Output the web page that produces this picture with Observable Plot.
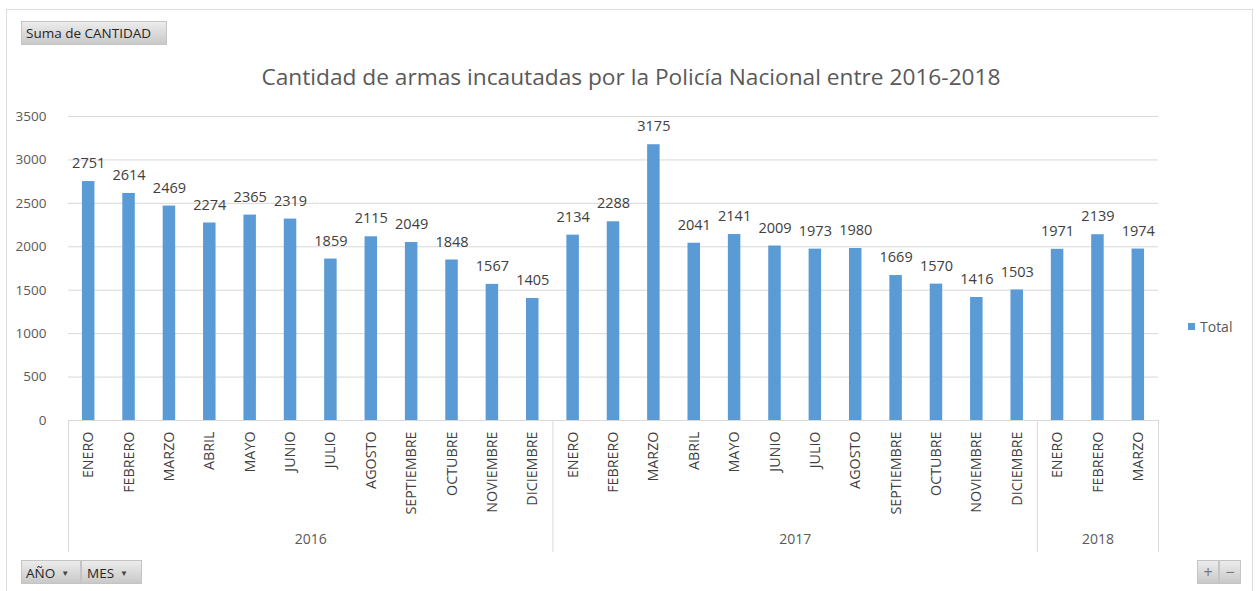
<!DOCTYPE html>
<html>
<head>
<meta charset="utf-8">
<script src="https://cdn.jsdelivr.net/npm/d3@7"></script>
<script src="https://cdn.jsdelivr.net/npm/@observablehq/plot@0.6"></script>
<style>
  html, body { margin: 0; padding: 0; background: #fff; }
  #wrap { position: relative; width: 1256px; height: 591px; overflow: hidden; font-family: "Open Sans", sans-serif; }
  #frame { position: absolute; left: 6px; top: 9px; width: 1247px; height: 600px; border: 1px solid #dcdcdc; border-bottom: none; box-sizing: border-box; }
  .btn { position: absolute; height: 24px; line-height: 23px; font-size: 13.5px; color: #262626;
         background: linear-gradient(#ececec, #c9c9c9); border: 1px solid #c4c4c4; box-sizing: border-box; white-space: nowrap; }
  .btn .arr { font-size: 8px; color: #444; margin-left: 6px; vertical-align: 2px; }
  #title { position: absolute; left: 631px; top: 61px; transform: translateX(-50%); font-size: 22.7px; color: #595959; white-space: nowrap; }
  #legend { position: absolute; left: 1188px; top: 317px; font-size: 14px; color: #595959; white-space: nowrap; }
  #legend .sw { display: inline-block; width: 7px; height: 7px; background: #5b9bd5; margin-right: 5px; vertical-align: 2px; }
  #chart { position: absolute; left: 0; top: 0; }
</style>
</head>
<body>
<div id="wrap">
  <div id="frame"></div>
  <div id="chart"></div>
  <div class="btn" style="left:21px; top:21px; width:146px; padding-left:4px;">Suma de CANTIDAD</div>
  <div id="title">Cantidad de armas incautadas por la Policía Nacional entre 2016-2018</div>
  <div id="legend"><span class="sw"></span>Total</div>
  <div class="btn" style="left:21px; top:560px; width:60px; padding-left:4px;">AÑO<span class="arr">▼</span></div>
  <div class="btn" style="left:81px; top:560px; width:61px; padding-left:5px;">MES<span class="arr">▼</span></div>
  <div class="btn" style="left:1197px; top:560px; width:22px; text-align:center; font-size:16px; color:#777;">+</div>
  <div class="btn" style="left:1219px; top:560px; width:22px; text-align:center; font-size:16px; color:#777;">−</div>
</div>
<script>
const years = ["2016", "2017", "2018"];
const months2016 = ["ENERO","FEBRERO","MARZO","ABRIL","MAYO","JUNIO","JULIO","AGOSTO","SEPTIEMBRE","OCTUBRE","NOVIEMBRE","DICIEMBRE"];
const months2017 = ["ENERO","FEBRERO","MARZO","ABRIL","MAYO","JUNIO","JULIO","AGOSTO","SEPTIEMBRE","OCTUBRE","NOVIEMBRE","DICIEMBRE"];
const months2018 = ["ENERO","FEBRERO","MARZO"];
const values2016 = [2751, 2614, 2469, 2274, 2365, 2319, 1859, 2115, 2049, 1848, 1567, 1405];
const values2017 = [2134, 2288, 3175, 2041, 2141, 2009, 1973, 1980, 1669, 1570, 1416, 1503];
const values2018 = [1971, 2139, 1974];
const yTicks = [0, 500, 1000, 1500, 2000, 2500, 3000, 3500];

const monthsByYear = [months2016, months2017, months2018];
const valuesByYear = [values2016, values2017, values2018];
const data = [];
years.forEach((yr, i) => {
  monthsByYear[i].forEach((m, j) => data.push({key: yr + "|" + m, year: yr, month: m, value: valuesByYear[i][j]}));
});
const keys = data.map(d => d.key);

const W = 1256, H = 591, ML = 68, MR = 98, MT = 116, MB = 171;
const bw = (W - ML - MR) / keys.length;
const barW = 12.5;

// year group boundaries and centres
const firstKeys = years.map((yr, i) => yr + "|" + monthsByYear[i][0]);
const lastKey = keys[keys.length - 1];
const evenCentres = [], oddCentres = [];
years.forEach((yr, i) => {
  const n = monthsByYear[i].length;
  const k = yr + "|" + monthsByYear[i][Math.floor(n / 2)];
  (n % 2 === 0 ? evenCentres : oddCentres).push(k);
});
const yearOf = k => k.split("|")[0];

const chart = Plot.plot({
  width: W, height: H,
  marginLeft: ML, marginRight: MR, marginTop: MT, marginBottom: MB,
  style: {fontFamily: "'Open Sans', sans-serif", background: "transparent"},
  x: {domain: keys, padding: 0, round: false},
  y: {domain: [0, 3500]},
  marks: [
    Plot.gridY(yTicks, {stroke: "#d9d9d9", strokeOpacity: 1}),
    Plot.barY(data, {x: "key", y: "value", fill: "#5b9bd5", insetLeft: (bw - barW) / 2, insetRight: (bw - barW) / 2}),
    Plot.ruleY([0], {stroke: "#d9d9d9"}),
    Plot.text(data, {x: "key", y: "value", text: d => String(d.value), dy: -18, fill: "#404040", fontSize: 14.5}),
    Plot.axisY({ticks: yTicks, tickSize: 0, tickPadding: 22, fontSize: 13.5, fill: "#595959", label: null, tickFormat: d => String(d)}),
    Plot.axisX({tickRotate: -90, tickSize: 0, tickPadding: 11, fontSize: 14.3, fill: "#404040",
                tickFormat: k => k.split("|")[1], label: null}),
    Plot.axisX({ticks: firstKeys, tickSize: 132, dx: -bw / 2, tickFormat: () => "", stroke: "#d9d9d9", label: null}),
    Plot.axisX({ticks: [lastKey], tickSize: 132, dx: bw / 2, tickFormat: () => "", stroke: "#d9d9d9", label: null}),
    Plot.axisX({ticks: evenCentres, tickSize: 0, tickPadding: 114, dx: -bw / 2, tickFormat: yearOf, fill: "#595959", fontSize: 14, label: null}),
    Plot.axisX({ticks: oddCentres, tickSize: 0, tickPadding: 114, dx: 0, tickFormat: yearOf, fill: "#595959", fontSize: 14, label: null})
  ]
});
document.getElementById("chart").appendChild(chart);
</script>
</body>
</html>
